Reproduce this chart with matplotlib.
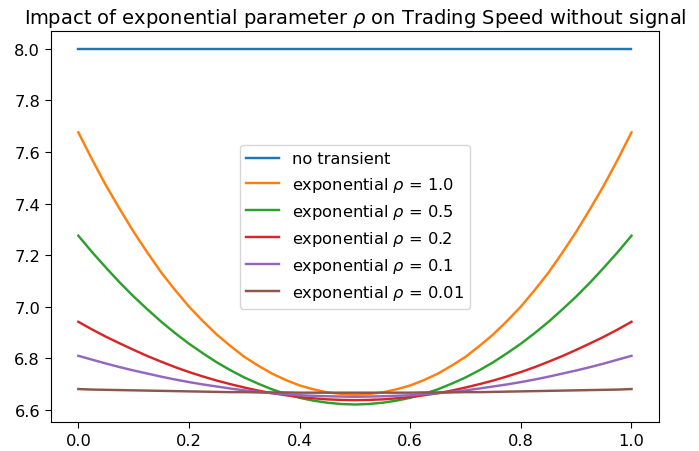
import numpy as np
import matplotlib
matplotlib.use("Agg")
import matplotlib.pyplot as plt

plt.rcParams['font.size'] = 11.7
plt.rcParams['lines.linewidth'] = 1.75

# time grid (fraction of the trading horizon), step 0.025
t = [0.000, 0.025, 0.050, 0.075, 0.100, 0.125, 0.150, 0.175, 0.200, 0.225,
     0.250, 0.275, 0.300, 0.325, 0.350, 0.375, 0.400, 0.425, 0.450, 0.475,
     0.500,
     0.525, 0.550, 0.575, 0.600, 0.625, 0.650, 0.675, 0.700, 0.725, 0.750,
     0.775, 0.800, 0.825, 0.850, 0.875, 0.900, 0.925, 0.950, 0.975, 1.000]

# trading speed
no_transient = [8.0] * 41
rho_1 = [7.676, 7.570, 7.470, 7.378, 7.290, 7.209, 7.132, 7.064, 7.000, 6.944,
         6.892, 6.847, 6.805, 6.771, 6.740, 6.715, 6.694, 6.679, 6.667, 6.661,
         6.658,
         6.661, 6.667, 6.679, 6.694, 6.715, 6.740, 6.771, 6.805, 6.847, 6.892,
         6.944, 7.000, 7.064, 7.132, 7.209, 7.290, 7.378, 7.470, 7.570, 7.676]
rho_05 = [7.275, 7.211, 7.151, 7.093, 7.039, 6.989, 6.941, 6.897, 6.856, 6.819,
          6.784, 6.753, 6.725, 6.701, 6.679, 6.661, 6.646, 6.635, 6.627, 6.622,
          6.620,
          6.622, 6.627, 6.635, 6.646, 6.661, 6.679, 6.701, 6.725, 6.753, 6.784,
          6.819, 6.856, 6.897, 6.941, 6.989, 7.039, 7.093, 7.151, 7.211, 7.275]
rho_02 = [6.941, 6.911, 6.883, 6.857, 6.832, 6.808, 6.786, 6.765, 6.746, 6.729,
          6.713, 6.699, 6.686, 6.674, 6.664, 6.656, 6.649, 6.644, 6.640, 6.638,
          6.637,
          6.638, 6.640, 6.644, 6.649, 6.656, 6.664, 6.674, 6.686, 6.699, 6.713,
          6.729, 6.746, 6.765, 6.786, 6.808, 6.832, 6.857, 6.883, 6.911, 6.941]
rho_01 = [6.809, 6.794, 6.779, 6.765, 6.752, 6.740, 6.728, 6.717, 6.707, 6.698,
          6.690, 6.682, 6.675, 6.669, 6.664, 6.660, 6.656, 6.654, 6.652, 6.651,
          6.650,
          6.651, 6.652, 6.654, 6.656, 6.660, 6.664, 6.669, 6.675, 6.682, 6.690,
          6.698, 6.707, 6.717, 6.728, 6.740, 6.752, 6.765, 6.779, 6.794, 6.809]
rho_001 = [6.680, 6.678, 6.677, 6.676, 6.675, 6.674, 6.673, 6.672, 6.671, 6.670,
           6.669, 6.668, 6.668, 6.667, 6.667, 6.667, 6.666, 6.666, 6.666, 6.666,
           6.666,
           6.666, 6.666, 6.666, 6.666, 6.667, 6.667, 6.667, 6.668, 6.668, 6.669,
           6.670, 6.671, 6.672, 6.673, 6.674, 6.675, 6.676, 6.677, 6.678, 6.680]

fig, ax = plt.subplots(figsize=(6.99, 4.52), dpi=100)
fig.subplots_adjust(left=0.0725, right=0.943, top=0.929, bottom=0.0635)

ax.plot(t, no_transient, label='no transient')
ax.plot(t, rho_1, label=r'exponential $\rho$ = 1.0')
ax.plot(t, rho_05, label=r'exponential $\rho$ = 0.5')
ax.plot(t, rho_02, label=r'exponential $\rho$ = 0.2')
ax.plot(t, rho_01, label=r'exponential $\rho$ = 0.1')
ax.plot(t, rho_001, label=r'exponential $\rho$ = 0.01')

ax.tick_params(length=4.1)
ax.set_title(r'Impact of exponential parameter $\rho$ on Trading Speed without signal', fontsize=14)
ax.legend(loc='center')

plt.savefig('out.png')
